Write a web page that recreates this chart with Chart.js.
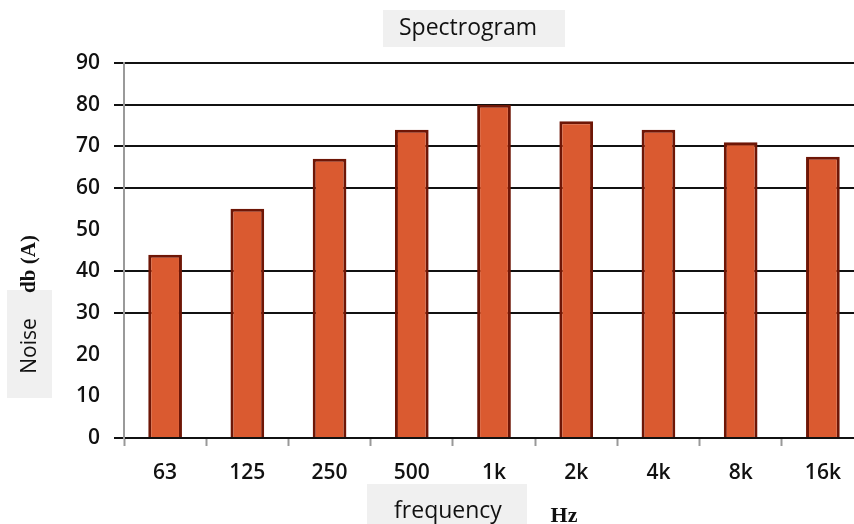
<!DOCTYPE html>
<html>
<head>
<meta charset="utf-8">
<script src="https://cdn.jsdelivr.net/npm/chart.js@4.4.0/dist/chart.umd.min.js"></script>
<style>
    body { margin: 0; background: #ffffff; }
    #wrap { width: 854px; height: 524px; overflow: hidden; }
</style>
</head>
<body>
<!-- canvas um pouco mais largo que a janela: as linhas de grade saem pela borda direita -->
<div id="wrap"><canvas id="grafico-espectro" width="864" height="524"></canvas></div>
<script>
// dados do grafico
const frequencias = ["63", "125", "250", "500", "1k", "2k", "4k", "8k", "16k"];
const ruidoDb = [44, 55, 67, 74, 80, 76, 74, 71, 67.5];
// linhas de grade que nao aparecem na imagem original
const gradeOculta = [10, 20, 50];

const tituloGrafico = "Spectrogram";
const tituloY = ["Noise", "db (A)"];
const tituloX = ["frequency", "Hz"];

// desenha os titulos com as caixinhas cinza
const pluginTitulos = {
    id: "titulos",
    afterDraw(chart) {
        const ctx = chart.ctx;
        ctx.save();

        // titulo principal
        ctx.fillStyle = "#f0f0f0";
        ctx.fillRect(383, 10, 182, 37);
        ctx.fillStyle = "#111";
        ctx.font = "23px 'Open Sans'";
        ctx.textAlign = "center";
        ctx.textBaseline = "middle";
        ctx.fillText(tituloGrafico, 468, 28);

        // titulo eixo x
        ctx.fillStyle = "#f0f0f0";
        ctx.fillRect(367, 484, 160, 40);
        ctx.fillStyle = "#111";
        ctx.font = "23px 'Open Sans'";
        ctx.fillText(tituloX[0], 448, 511);
        ctx.font = "bold 22px 'Liberation Serif'";
        ctx.fillText(tituloX[1], 564, 516);

        // titulo eixo y (rotacionado)
        ctx.fillStyle = "#f0f0f0";
        ctx.fillRect(7, 290, 45, 108);
        ctx.translate(30, 0);
        ctx.rotate(-Math.PI / 2);
        ctx.fillStyle = "#111";
        ctx.font = "21px 'Open Sans'";
        ctx.fillText(tituloY[0], -346, 0);
        ctx.font = "bold 21px 'Liberation Serif'";
        ctx.fillText(tituloY[1], -264, 0);

        ctx.restore();
    }
};

let myChartEspectro = new Chart(
    document.getElementById("grafico-espectro"),
    {
        type: "bar",
        data: {
            labels: frequencias,
            datasets: [{
                label: "Noise db (A)",
                data: ruidoDb,
                backgroundColor: "#da5a30",
                borderColor: "#6e1606",
                borderWidth: 3,
                barPercentage: 0.41,
                categoryPercentage: 1
            }]
        },
        options: {
            responsive: false,
            animation: false,
            layout: {
                padding: { top: 63, right: 0, bottom: 0, left: 0 }
            },
            scales: {
                x: {
                    afterFit: scale => { scale.height = 86 },
                    grid: {
                        drawOnChartArea: false,
                        tickLength: 8,
                        tickColor: "#999",
                        tickWidth: 2
                    },
                    border: { color: "#111", width: 2 },
                    ticks: {
                        color: "#111",
                        padding: 14,
                        font: { family: "Open Sans", size: 21, weight: "600" }
                    }
                },
                y: {
                    min: 0,
                    max: 90,
                    afterFit: scale => { scale.width = 124 },
                    grid: {
                        color: ctx => gradeOculta.includes(ctx.tick.value) ? "rgba(0,0,0,0)" : "#111",
                        lineWidth: 2,
                        tickLength: 10
                    },
                    border: { color: "#9a9a9a", width: 2 },
                    ticks: {
                        stepSize: 10,
                        color: "#111",
                        padding: 14,
                        font: { family: "Open Sans", size: 21, weight: "600" }
                    }
                }
            },
            plugins: {
                legend: { display: false },
                tooltip: { enabled: false }
            }
        },
        plugins: [pluginTitulos]
    }
);
</script>
</body>
</html>
